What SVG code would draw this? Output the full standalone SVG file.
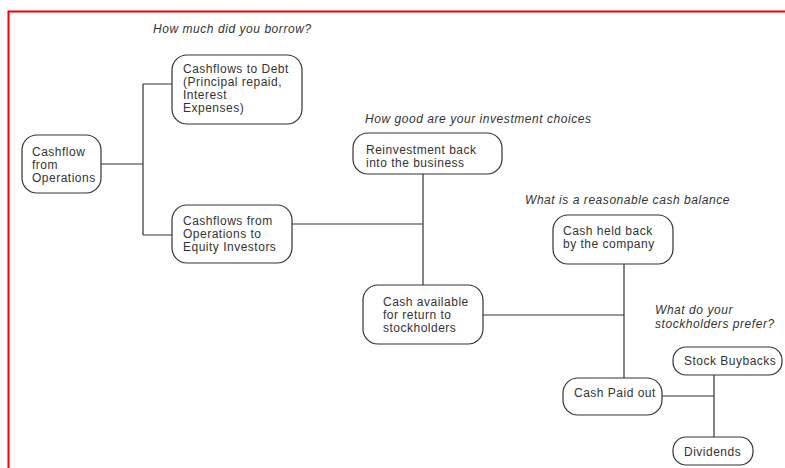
<svg xmlns="http://www.w3.org/2000/svg" width="785" height="468" viewBox="0 0 785 468">
<style>
.box{fill:#fff;stroke:#333;stroke-width:1.2}
.t{font-family:"Liberation Sans",Arial,sans-serif;font-size:12px;letter-spacing:0.5px;fill:#333}
.q{font-family:"Liberation Sans",Arial,sans-serif;font-size:12px;letter-spacing:0.55px;font-style:italic;fill:#333}
.c{fill:none;stroke:#333;stroke-width:1.2}
</style>
<rect width="785" height="468" fill="#fff"/>
<path d="M8.5,468 V11.5 H785" fill="none" stroke="#e00" stroke-width="2"/>
<g id="connectors">
<path class="c" d="M101,164 H143 M143,84 V235 M143,84 H172 M143,235 H172"/>
<path class="c" d="M292,224 H423 M423,174 V285"/>
<path class="c" d="M483,315 H624 M624,264 V378"/>
<path class="c" d="M662,396 H714 M714,375 V437"/>
</g>
<g id="labels">
<text class="q" x="153" y="33">How much did you borrow?</text>
<text class="q" x="365" y="123">How good are your investment choices</text>
<text class="q" x="525" y="204">What is a reasonable cash balance</text>
<text class="q" x="655" y="314">What do your</text>
<text class="q" x="655" y="328">stockholders prefer?</text>
</g>
<g id="n_cfo">
<rect class="box" x="22" y="135" width="79" height="58" rx="15"/>
<text class="t" x="32" y="156">Cashflow</text>
<text class="t" x="32" y="169">from</text>
<text class="t" x="32" y="182">Operations</text>
</g>
<g id="n_debt">
<rect class="box" x="172" y="55" width="130" height="69" rx="15"/>
<text class="t" x="183" y="73">Cashflows to Debt</text>
<text class="t" x="183" y="86">(Principal repaid,</text>
<text class="t" x="183" y="99">Interest</text>
<text class="t" x="183" y="112">Expenses)</text>
</g>
<g id="n_equity">
<rect class="box" x="172" y="205" width="120" height="58" rx="15"/>
<text class="t" x="183" y="225">Cashflows from</text>
<text class="t" x="183" y="238">Operations to</text>
<text class="t" x="183" y="251">Equity Investors</text>
</g>
<g id="n_reinvest">
<rect class="box" x="353" y="133" width="149" height="41" rx="15"/>
<text class="t" x="366" y="154">Reinvestment back</text>
<text class="t" x="366" y="167">into the business</text>
</g>
<g id="n_available">
<rect class="box" x="363" y="285" width="120" height="59" rx="15"/>
<text class="t" x="383" y="306">Cash available</text>
<text class="t" x="383" y="319">for return to</text>
<text class="t" x="383" y="332">stockholders</text>
</g>
<g id="n_held">
<rect class="box" x="553" y="215" width="120" height="49" rx="15"/>
<text class="t" x="563" y="235">Cash held back</text>
<text class="t" x="563" y="248">by the company</text>
</g>
<g id="n_paid">
<rect class="box" x="563" y="378" width="99" height="37" rx="15"/>
<text class="t" x="574" y="397">Cash Paid out</text>
</g>
<g id="n_buyback">
<rect class="box" x="673" y="347" width="109" height="28" rx="13"/>
<text class="t" x="684" y="365">Stock Buybacks</text>
</g>
<g id="n_dividends">
<rect class="box" x="673" y="437" width="80" height="28" rx="13"/>
<text class="t" x="684" y="456">Dividends</text>
</g>
</svg>
